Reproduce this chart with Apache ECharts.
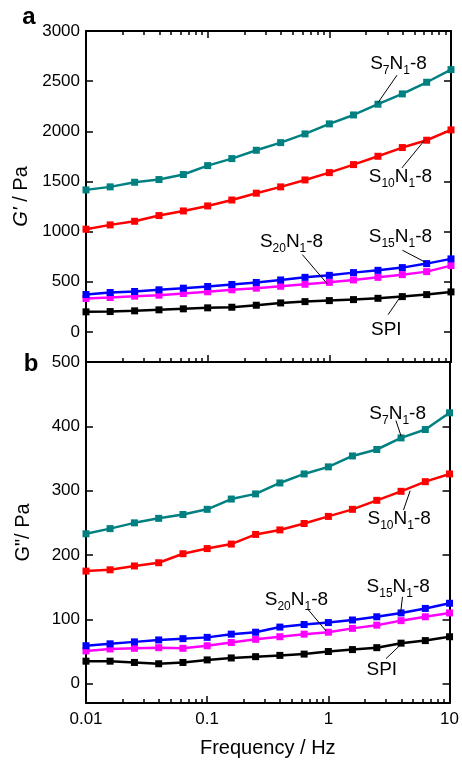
<!DOCTYPE html>
<html>
<head>
<meta charset="utf-8">
<script src="https://cdn.jsdelivr.net/npm/echarts@6/dist/echarts.min.js"></script>
<style>
  html, body { margin: 0; background: #fff; }
  #chart { width: 462px; height: 761px; }
</style>
</head>
<body>
<div id="chart"></div>
<script>
// frequency sweep (Hz), 5 points per decade
const freq = [0.01, 0.0158, 0.0251, 0.0398, 0.0631, 0.1, 0.158, 0.251, 0.398, 0.631, 1, 1.58, 2.51, 3.98, 6.31, 10];

// G' (Pa)
const gpS7  = [1416, 1446, 1492, 1519, 1569, 1658, 1728, 1811, 1887, 1974, 2074, 2163, 2270, 2373, 2489, 2615];
const gpS10 = [1024, 1067, 1103, 1160, 1206, 1256, 1315, 1383, 1446, 1515, 1588, 1668, 1751, 1838, 1911, 2014];
const gpS15 = [373, 393, 403, 420, 436, 453, 473, 493, 518, 544, 564, 591, 614, 641, 681, 728];
const gpS20 = [333, 343, 356, 366, 383, 400, 420, 436, 455, 475, 494, 518, 544, 571, 601, 661];
const gpSPI = [200, 203, 210, 220, 230, 240, 246, 266, 289, 302, 312, 322, 335, 352, 372, 399];

// G'' (Pa)
const gppS7  = [233, 241, 250, 257, 263, 271, 287, 295, 312, 326, 337, 354, 364, 382, 395, 421];
const gppS10 = [175, 177, 183, 188, 202, 210, 217, 232, 239, 249, 260, 271, 285, 299, 314, 326];
const gppS15 = [59, 62, 65, 68, 70, 72, 77, 80, 88, 92, 95, 99, 104, 110, 117, 125];
const gppS20 = [51, 54, 55, 56, 55, 59, 64, 69, 73, 77, 80, 86, 91, 98, 104, 110];
const gppSPI = [35, 35, 33, 31, 33, 37, 40, 42, 44, 46, 50, 53, 56, 63, 67, 73];

// tick values
const gpTicks  = [0, 500, 1000, 1500, 2000, 2500, 3000];
const gppTicks = [0, 100, 200, 300, 400, 500];
const freqMajor = [0.01, 0.1, 1, 10];
const freqMinor = [0.02, 0.03, 0.04, 0.05, 0.06, 0.07, 0.08, 0.09,
                   0.2, 0.3, 0.4, 0.5, 0.6, 0.7, 0.8, 0.9,
                   2, 3, 4, 5, 6, 7, 8, 9];

const names  = ['SPI', 'S20N1-8', 'S15N1-8', 'S10N1-8', 'S7N1-8'];
const colors = ['#000000', '#ff00ff', '#0000ff', '#ff0000', '#008080'];
const gpData  = [gpSPI, gpS20, gpS15, gpS10, gpS7];
const gppData = [gppSPI, gppS20, gppS15, gppS10, gppS7];

// annotation labels: [main, sub, main, sub, main], text centre and leader line in data units
const annotations = [
  { grid: 0, parts: ['S', '7', 'N', '1', '-8'],  at: [3.7, 2675], line: [[3.6, 2560], [2.51, 2285]] },
  { grid: 0, parts: ['S', '10', 'N', '1', '-8'], at: [3.84, 1548], line: [[6.03, 1907], [3.95, 1635]] },
  { grid: 0, parts: ['S', '20', 'N', '1', '-8'], at: [0.489, 897], line: [[0.60, 771], [0.96, 480]] },
  { grid: 0, parts: ['S', '15', 'N', '1', '-8'], at: [3.84, 947], line: [[3.99, 814], [6.08, 698]] },
  { grid: 0, parts: ['SPI'],                     at: [2.94, 23],  line: [[3.04, 172], [3.91, 365]] },
  { grid: 1, parts: ['S', '7', 'N', '1', '-8'],  at: [3.73, 420], line: [[3.61, 409], [3.98, 385]] },
  { grid: 1, parts: ['S', '10', 'N', '1', '-8'], at: [3.84, 256], line: [[4.17, 270], [4.73, 300]] },
  { grid: 1, parts: ['S', '15', 'N', '1', '-8'], at: [3.77, 151], line: [[4.09, 135], [3.96, 112]] },
  { grid: 1, parts: ['S', '20', 'N', '1', '-8'], at: [0.545, 130], line: [[0.675, 116], [0.957, 82]] },
  { grid: 1, parts: ['SPI'],                     at: [2.76, 22],  line: [[2.99, 39], [3.97, 61]] }
];

const FONT = 'Liberation Sans, Arial, sans-serif';
const chart = echarts.init(document.getElementById('chart'));

const lineStyle = { color: '#000', width: 2 };

const xAxes = [];
function addX(gridIndex, position, values, len, showLine, showLabel) {
  xAxes.push({
    type: 'log', logBase: 10, gridIndex, position, min: 0.01, max: 10,
    axisLine: { show: showLine, onZero: false, lineStyle },
    axisTick: values ? { show: true, inside: true, length: len, customValues: values,
                         lineStyle: { color: '#000', width: 1.5 } } : { show: false },
    axisLabel: showLabel ? {
      show: true, customValues: freqMajor, margin: 8, color: '#000',
      fontSize: 17, fontFamily: FONT, formatter: v => String(v)
    } : { show: false },
    splitLine: { show: false },
    name: showLabel ? 'Frequency / Hz' : '',
    nameLocation: 'middle', nameGap: 35,
    nameTextStyle: { fontSize: 20, fontFamily: FONT, color: '#000' }
  });
}
// top panel
addX(0, 'bottom', freqMajor, 7, true, false);   // 0
addX(0, 'top', freqMajor, 7, true, false);      // 1
addX(0, 'bottom', freqMinor, 4, false, false);  // 2
addX(0, 'top', freqMinor, 4, false, false);     // 3
// bottom panel
addX(1, 'bottom', freqMajor, 7, true, true);    // 4
addX(1, 'top', null, 0, true, false);           // 5
addX(1, 'bottom', freqMinor, 4, false, false);  // 6

function yAxis(gridIndex, position, min, max, ticks, name, rich) {
  const left = position === 'left';
  return {
    type: 'value', gridIndex, position, min, max,
    axisLine: { show: true, onZero: false, lineStyle },
    axisTick: { show: true, inside: true, length: 7, customValues: ticks,
                lineStyle: { color: '#000', width: 1.5 } },
    axisLabel: left ? { show: true, customValues: ticks, margin: 6, color: '#000',
                        fontSize: 17, fontFamily: FONT, formatter: v => String(v) } : { show: false },
    splitLine: { show: false },
    name: left ? name : '',
    nameLocation: 'middle', nameGap: 53,
    nameTextStyle: { fontSize: 20, fontFamily: FONT, color: '#000', rich }
  };
}

const italic = { g: { fontSize: 20, fontFamily: FONT, fontStyle: 'italic', color: '#000' } };
const yAxes = [
  yAxis(0, 'left', -300, 3000, gpTicks, "{g|G'} / Pa", italic),
  yAxis(0, 'right', -300, 3000, gpTicks),
  yAxis(1, 'left', -30, 500, gppTicks, 'G"/ Pa'),
  yAxis(1, 'right', -30, 500, gppTicks)
];

function makeSeries(data, xIdx, yIdx) {
  return data.map((vals, k) => ({
    name: names[k], type: 'line', xAxisIndex: xIdx, yAxisIndex: yIdx,
    data: freq.map((f, i) => [f, vals[i]]),
    symbol: 'rect', symbolSize: 7,
    itemStyle: { color: colors[k] },
    lineStyle: { color: colors[k], width: 2.5 },
    z: 3 + k
  }));
}

chart.setOption({
  animation: false,
  backgroundColor: '#fff',
  grid: [
    { left: 86, right: 11, top: 31, height: 331 },
    { left: 86, right: 11, top: 362, height: 341 }
  ],
  xAxis: xAxes,
  yAxis: yAxes,
  series: [...makeSeries(gpData, 0, 0), ...makeSeries(gppData, 4, 2)]
});

// annotations and panel letters
const rich = {
  m: { fontSize: 19, fontFamily: FONT, color: '#000', lineHeight: 26 },
  s: { fontSize: 12, fontFamily: FONT, color: '#000', lineHeight: 12, verticalAlign: 'bottom' }
};
const graphics = [];
annotations.forEach(a => {
  const finder = a.grid === 0 ? { xAxisIndex: 0, yAxisIndex: 0 } : { xAxisIndex: 4, yAxisIndex: 2 };
  const p = chart.convertToPixel(finder, a.at);
  const l1 = chart.convertToPixel(finder, a.line[0]);
  const l2 = chart.convertToPixel(finder, a.line[1]);
  const txt = a.parts.map((t, i) => (i % 2 === 0 ? '{m|' : '{s|') + t + '}').join('');
  graphics.push({
    type: 'line', z: 20,
    shape: { x1: l1[0], y1: l1[1], x2: l2[0], y2: l2[1] },
    style: { stroke: '#000', lineWidth: 1 }
  });
  graphics.push({
    type: 'text', z: 21, x: p[0], y: p[1],
    style: { text: txt, rich, align: 'center', verticalAlign: 'middle' }
  });
});
graphics.push({ type: 'text', x: 29, y: 17, style: { text: 'a', font: 'bold 24px ' + FONT, fill: '#000', align: 'center', verticalAlign: 'middle' } });
graphics.push({ type: 'text', x: 31, y: 364, style: { text: 'b', font: 'bold 24px ' + FONT, fill: '#000', align: 'center', verticalAlign: 'middle' } });
chart.setOption({ graphic: graphics });
</script>
</body>
</html>
